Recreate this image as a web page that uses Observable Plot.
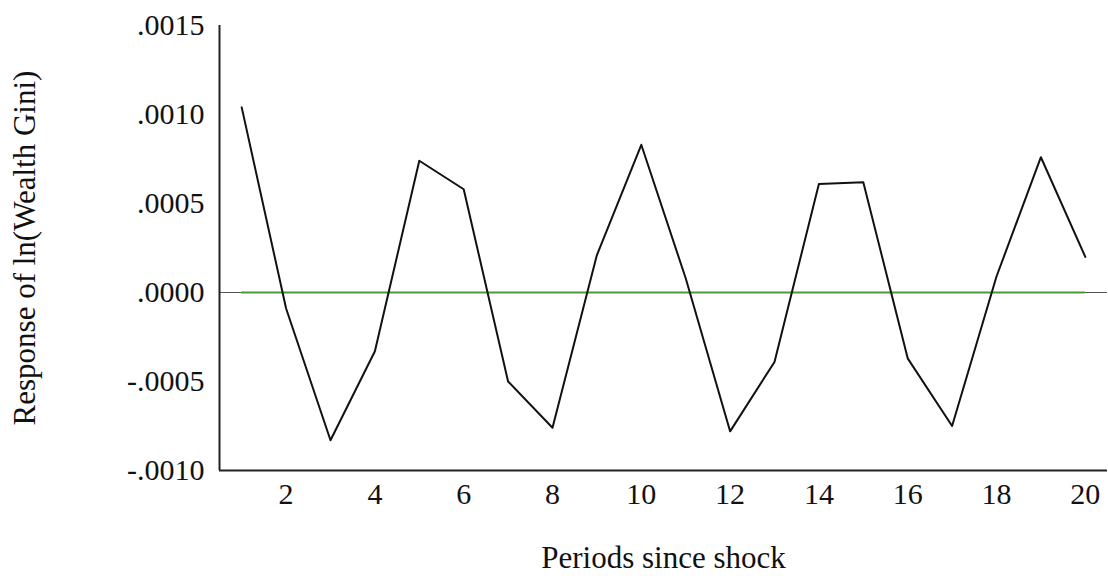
<!DOCTYPE html>
<html>
<head>
<meta charset="utf-8">
<script src="https://cdn.jsdelivr.net/npm/d3@7"></script>
<script src="https://cdn.jsdelivr.net/npm/@observablehq/plot@0.6"></script>
<style>
  html, body { margin: 0; padding: 0; background: #fff; }
  #chart { width: 1108px; height: 576px; }
</style>
</head>
<body>
<div id="chart"></div>
<script>
const periods = [1,2,3,4,5,6,7,8,9,10,11,12,13,14,15,16,17,18,19,20];
const response = [0.00104,-0.00009,-0.00083,-0.00033,0.00074,0.00058,-0.00050,-0.00076,0.00021,0.00083,
                  0.00008,-0.00078,-0.00039,0.00061,0.00062,-0.00037,-0.00075,0.00009,0.00076,0.00020];
const yTicks = [-0.001,-0.0005,0,0.0005,0.001,0.0015];
const xTicks = [2,4,6,8,10,12,14,16,18,20];
const xLabel = "Periods since shock";
const yLabel = "Response of ln(Wealth Gini)";

const data = periods.map((p, i) => ({period: p, value: response[i]}));
const fmt = d => (d < 0 ? "-" : "") + Math.abs(d).toFixed(4).replace(/^0/, "");

const plot = Plot.plot({
  width: 1108,
  height: 576,
  marginLeft: 219,
  marginRight: 1,
  marginTop: 25,
  marginBottom: 106,
  style: {fontFamily: "'Liberation Serif', 'Times New Roman', serif", fontSize: "30px", color: "#111", background: "#fff", overflow: "visible"},
  x: {domain: [0.5, 20.5], ticks: xTicks, tickSize: 0, tickPadding: 12, label: null},
  y: {domain: [-0.001, 0.0015], ticks: yTicks, tickSize: 0, tickPadding: 15, tickFormat: fmt, label: null},
  marks: [
    Plot.ruleY([0], {stroke: "#555", strokeWidth: 1}),
    Plot.ruleY([0], {x1: periods[0], x2: periods[periods.length - 1], stroke: "#4a9a3c", strokeWidth: 2.2}),
    Plot.lineY(data, {x: "period", y: "value", stroke: "#111", strokeWidth: 2}),
    Plot.axisX({ticks: xTicks, tickSize: 0, tickPadding: 12, fontSize: 30}),
    Plot.axisY({ticks: yTicks, tickSize: 0, tickPadding: 15, tickFormat: fmt, fontSize: 30}),
    Plot.ruleX([0.5], {stroke: "#222", strokeWidth: 2}),
    Plot.ruleY([-0.001], {stroke: "#222", strokeWidth: 2}),
    Plot.text([xLabel], {frameAnchor: "bottom", dy: 97, fontSize: 31, fill: "#111"}),
    Plot.text([yLabel], {frameAnchor: "left", textAnchor: "middle", dx: -194, rotate: -90, fontSize: 31, fill: "#111"})
  ]
});
document.getElementById("chart").append(plot);
</script>
</body>
</html>
